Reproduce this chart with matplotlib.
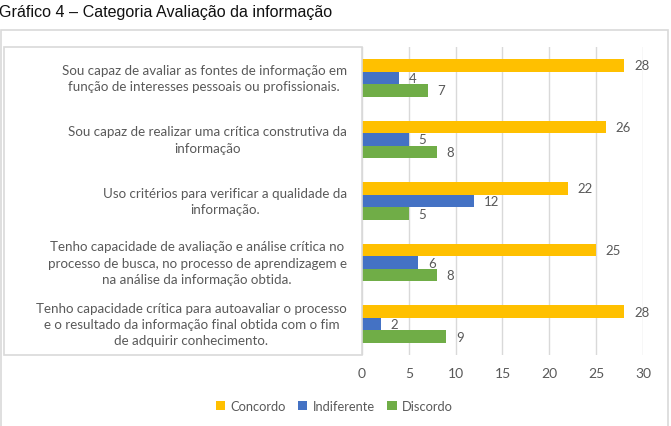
import matplotlib
matplotlib.use("Agg")
import matplotlib.pyplot as plt
from matplotlib.patches import Rectangle
import numpy as np

categories = [
    "Sou capaz de avaliar as fontes de informação em\nfunção de interesses pessoais ou profissionais.",
    "Sou capaz de realizar uma crítica construtiva da\ninformação",
    "Uso critérios para verificar a qualidade da\ninformação.",
    "Tenho capacidade de avaliação e análise crítica no\nprocesso de busca, no processo de aprendizagem e\nna análise da informação obtida.",
    "Tenho capacidade crítica para autoavaliar o processo\ne o resultado da informação final obtida com o fim\nde adquirir conhecimento.",
]
series_names = ["Concordo", "Indiferente", "Discordo"]
concordo = [28, 26, 22, 25, 28]
indiferente = [4, 5, 12, 6, 2]
discordo = [7, 8, 5, 8, 9]
xticks = [0, 5, 10, 15, 20, 25, 30]

colors = ["#FFC000", "#4472C4", "#70AD47"]
gray = "#595959"
W, H = 671, 427

fig = plt.figure(figsize=(W / 100, H / 100), dpi=100)
font = "Lato"

# outer frame
fig.patches.append(Rectangle((1 / W, -0.02), (667 / W), (1 - 31 / H) + 0.02,
                             transform=fig.transFigure, fill=False,
                             edgecolor="#D9D9D9", linewidth=1.2))
# label box
fig.patches.append(Rectangle((4 / W, 1 - 356 / H), (362 - 4) / W, (356 - 48) / H,
                             transform=fig.transFigure, fill=False,
                             edgecolor="#D9D9D9", linewidth=1.2))

fig.text(-0.002, 1 - 12 / H, "Gráfico 4 – Categoria Avaliação da informação",
         fontsize=11.6, family="Liberation Sans", ha="left", va="center", color="#111111")

ax = fig.add_axes([362 / W, 1 - 356 / H, (643 - 362) / W, (356 - 48) / H])
y = np.arange(len(categories))
h = 0.203
data = [concordo, indiferente, discordo]
for i, (name, vals, c) in enumerate(zip(series_names, data, colors)):
    pos = y + (i - 1) * h
    ax.barh(pos, vals, height=h, color=c, label=name, zorder=3)
    for p, v in zip(pos, vals):
        ax.annotate(str(v), (v, p), xytext=(7, 0), textcoords="offset points",
                    ha="left", va="center", fontsize=9.5, color=gray, family=font)

ax.set_xlim(0, 30)
ax.set_ylim(len(categories) - 0.5, -0.5)
ax.set_xticks(xticks)
ax.set_xticklabels([str(t) for t in xticks], fontsize=10, color=gray, family=font)
ax.set_yticks([])
ax.tick_params(axis="x", length=0, pad=9)
ax.grid(axis="x", color="#D9D9D9", linewidth=1, zorder=0)
for s in ["top", "right", "bottom", "left"]:
    ax.spines[s].set_visible(False)

for yi, lab in zip(y, categories):
    ax.annotate(lab, (0, yi), xytext=(-11, 0), textcoords="offset points",
                ha="right", va="center", multialignment="center",
                fontsize=9.6, color=gray, family=font, linespacing=1.42)

handles, labels = ax.get_legend_handles_labels()
fig.legend(handles, labels, loc="center", bbox_to_anchor=(0.498, 1 - 407 / H), ncol=3,
           frameon=False, handlelength=0.7, handleheight=0.7, handletextpad=0.4,
           columnspacing=1.0, prop={"family": font, "size": 9.3}, labelcolor=gray)

fig.savefig("out.png", dpi=100)
